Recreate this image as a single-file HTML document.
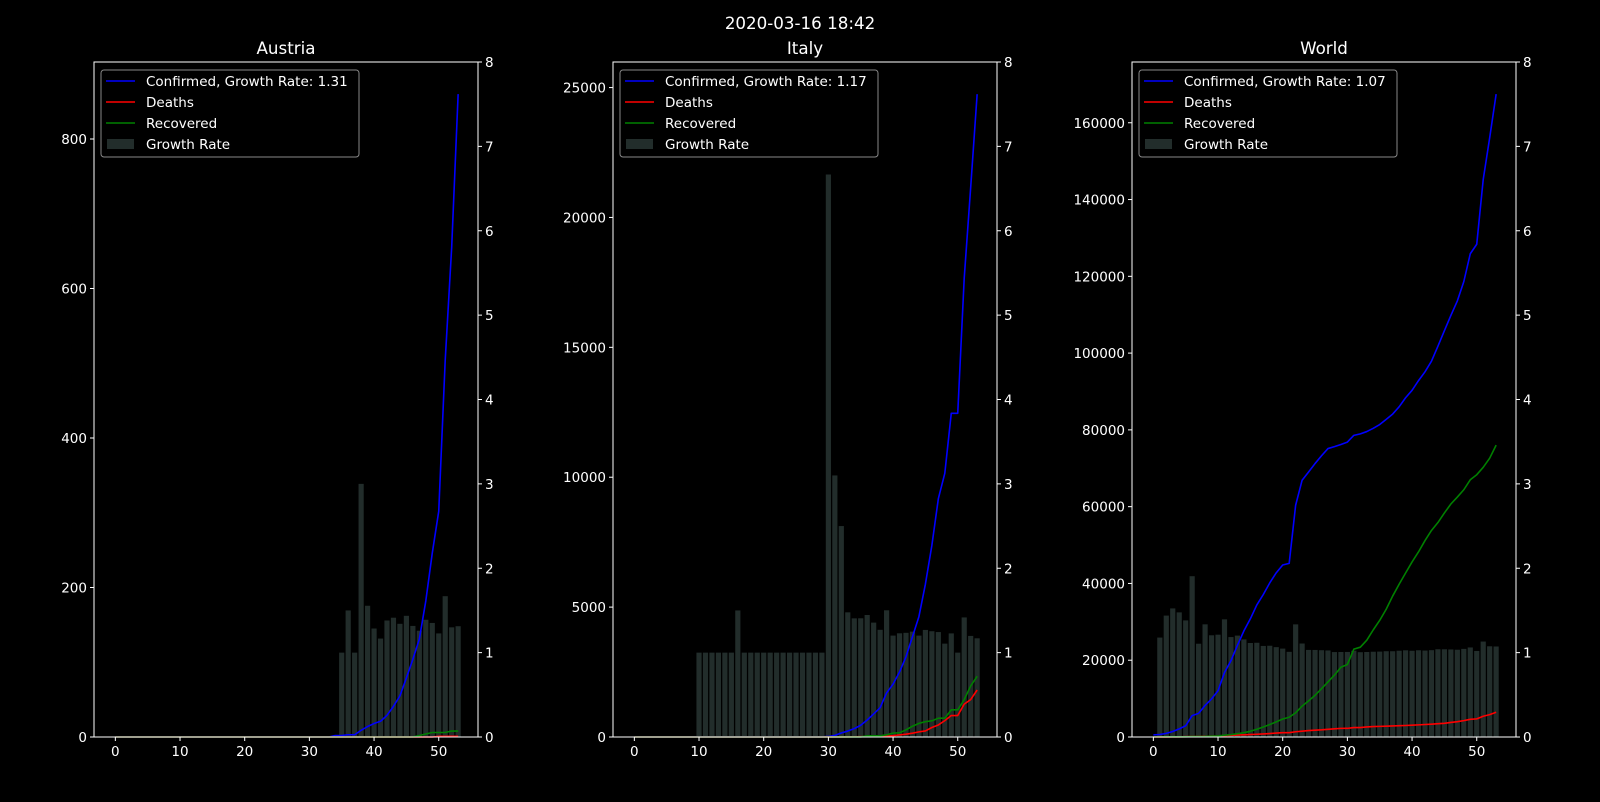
<!DOCTYPE html>
<html><head><meta charset="utf-8">
<style>
html,body{margin:0;padding:0;background:#000;}
svg{display:block;font-family:"DejaVu Sans","Liberation Sans",sans-serif;}
</style></head>
<body>
<svg id="fig" width="1600" height="802" viewBox="0 0 1600 802" xmlns="http://www.w3.org/2000/svg">
<rect width="1600" height="802" fill="#000"/>
<text x="800" y="29" fill="#fff" font-size="16.7" text-anchor="middle">2020-03-16 18:42</text>
</svg>
<script>
// ---- data (index 0 = 2020-01-22) ----
const days = Array.from({length:54},(_,i)=>i);
const austriaConfirmed = [0,0,0,0,0,0,0,0,0,0,0,0,0,0,0,0,0,0,0,0,0,0,0,0,0,0,0,0,0,0,0,0,0,0,2,2,3,3,9,14,18,21,29,41,55,79,104,131,182,246,302,504,655,860];
const austriaDeaths = [0,0,0,0,0,0,0,0,0,0,0,0,0,0,0,0,0,0,0,0,0,0,0,0,0,0,0,0,0,0,0,0,0,0,0,0,0,0,0,0,0,0,0,0,0,0,0,0,0,0,1,1,1,1];
const austriaRecovered = [0,0,0,0,0,0,0,0,0,0,0,0,0,0,0,0,0,0,0,0,0,0,0,0,0,0,0,0,0,0,0,0,0,0,0,0,0,0,0,0,0,0,0,0,0,0,0,2,4,6,6,6,8,8];
const italyConfirmed = [0,0,0,0,0,0,0,0,0,2,2,2,2,2,2,2,3,3,3,3,3,3,3,3,3,3,3,3,3,3,20,62,155,229,322,453,655,888,1128,1694,2036,2502,3089,3858,4636,5883,7375,9172,10149,12462,12462,17660,21157,24747];
const italyDeaths = [0,0,0,0,0,0,0,0,0,0,0,0,0,0,0,0,0,0,0,0,0,0,0,0,0,0,0,0,0,0,1,2,3,7,10,12,17,21,29,34,52,79,107,148,197,233,366,463,631,827,827,1266,1441,1809];
const italyRecovered = [0,0,0,0,0,0,0,0,0,0,0,0,0,0,0,0,0,0,0,0,0,0,0,0,0,0,0,0,0,0,0,1,2,1,1,3,45,46,46,83,149,160,276,414,523,589,622,724,724,1045,1045,1439,1966,2335];
const worldConfirmed = [555,654,941,1434,2118,2927,5578,6166,8234,9927,12038,16787,19881,23892,27635,30794,34391,37120,40150,42762,44802,45221,60368,66885,69030,71224,73258,75136,75639,76197,76819,78572,78958,79561,80406,81388,82746,84112,86011,88369,90306,92840,95120,97886,101801,105847,109821,113590,118620,125875,128352,145205,156101,167454];
const worldDeaths = [17,18,26,42,56,82,131,133,171,213,259,362,426,492,564,634,719,806,906,1013,1113,1118,1371,1523,1666,1770,1868,2007,2122,2247,2251,2458,2469,2629,2708,2770,2814,2872,2941,2996,3085,3160,3254,3348,3460,3558,3802,3988,4262,4615,4720,5404,5819,6440];
const worldRecovered = [28,30,36,39,52,61,107,126,143,222,284,472,623,852,1124,1487,2011,2616,3244,3946,4683,5150,6295,8058,9395,10865,12583,14352,16121,18177,18890,22886,23394,25227,27905,30384,33277,36711,39782,42716,45602,48228,51170,53796,55865,58358,60694,62494,64404,67003,68324,70251,72624,76034];
const austriaTicks = [0,200,400,600,800];
const italyTicks = [0,5000,10000,15000,20000,25000];
const worldTicks = [0,20000,40000,60000,80000,100000,120000,140000,160000];
const xTicks = [0,10,20,30,40,50];
const rateTicks = [0,1,2,3,4,5,6,7,8];

const NS="http://www.w3.org/2000/svg";
const fig=document.getElementById('fig');
function mk(tag,attrs,parent){const e=document.createElementNS(NS,tag);for(const k in attrs)e.setAttribute(k,attrs[k]);(parent||fig).appendChild(e);return e;}

const TOP=62,BOT=737,W=384;
function panel(name,left,conf,deaths,rec,yTicks){
  const g=mk('g',{});
  
  
  const right=left+W;
  const xmin=-3.3,xmax=56.07;
  const ymax=Math.max(...conf)*1.05;
  const X=v=>left+(v-xmin)/(xmax-xmin)*W;
  const Y=v=>BOT-v/ymax*(BOT-TOP);
  const R=v=>BOT-v/8*(BOT-TOP);
  for(let i=1;i<conf.length;i++){
    if(conf[i-1]<=0)continue;
    const gr=conf[i]/conf[i-1];
    const b=mk('rect',{x:X(i-0.4),y:R(gr),width:X(0.8)-X(0),height:BOT-R(gr),fill:'#222d2b'},g);
    
    
  }
  const series=[[conf,'#0000ff','confirmed-line'],[deaths,'#ff0000','deaths-line'],[rec,'#008000','recovered-line']];
  for(const [arr,col,nm] of series){
    const p=mk('polyline',{points:arr.map((v,i)=>X(days[i]).toFixed(2)+','+Y(v).toFixed(2)).join(' '),fill:'none',stroke:col,'stroke-width':1.6,'stroke-linejoin':'round'},g);
    
    
  }
  const sp=mk('rect',{x:left,y:TOP,width:W,height:BOT-TOP,fill:'none',stroke:'#fff','stroke-width':1},g);
  
  
  for(const t of xTicks){
    mk('line',{x1:X(t),x2:X(t),y1:BOT,y2:BOT+4,stroke:'#fff'},g);
    const tx=mk('text',{x:X(t),y:BOT+19,fill:'#fff','font-size':13.5,'text-anchor':'middle'},g);
    tx.textContent=t;
    
    
  }
  for(const t of yTicks){
    mk('line',{x1:left-4,x2:left,y1:Y(t),y2:Y(t),stroke:'#fff'},g);
    const tx=mk('text',{x:left-7,y:Y(t)+5,fill:'#fff','font-size':13.5,'text-anchor':'end'},g);
    tx.textContent=t;
    
    
  }
  for(const t of rateTicks){
    mk('line',{x1:right,x2:right+4,y1:R(t),y2:R(t),stroke:'#fff'},g);
    const tx=mk('text',{x:right+7,y:R(t)+5,fill:'#fff','font-size':13.5},g);
    tx.textContent=t;
    
    
  }
  const ti=mk('text',{x:left+W/2,y:54,fill:'#fff','font-size':16.7,'text-anchor':'middle'},g);
  ti.textContent=name;
  
  
  const lg=mk('g',{},g);
  
  
  mk('rect',{x:left+7,y:70,width:258,height:87,rx:3,fill:'#000',stroke:'#888','stroke-width':1},lg);
  const n=conf.length;
  const rate=(conf[n-1]/conf[n-2]).toFixed(2);
  const items=[['Confirmed, Growth Rate: '+rate,'#0000ff','line'],['Deaths','#ff0000','line'],['Recovered','#008000','line'],['Growth Rate','#222d2b','patch']];
  items.forEach((it,k)=>{
    const y=81+k*21;
    if(it[2]==='line') mk('line',{x1:left+12,x2:left+41,y1:y,y2:y,stroke:it[1],'stroke-width':1.6},lg);
    else mk('rect',{x:left+13,y:y-5,width:27,height:10,fill:it[1]},lg);
    const tx=mk('text',{x:left+52,y:y+5,fill:'#fff','font-size':13.5},lg);
    tx.textContent=it[0];
    
    
  });
}
panel('Austria',94,austriaConfirmed,austriaDeaths,austriaRecovered,austriaTicks);
panel('Italy',613,italyConfirmed,italyDeaths,italyRecovered,italyTicks);
panel('World',1132,worldConfirmed,worldDeaths,worldRecovered,worldTicks);
</script>
</body></html>
